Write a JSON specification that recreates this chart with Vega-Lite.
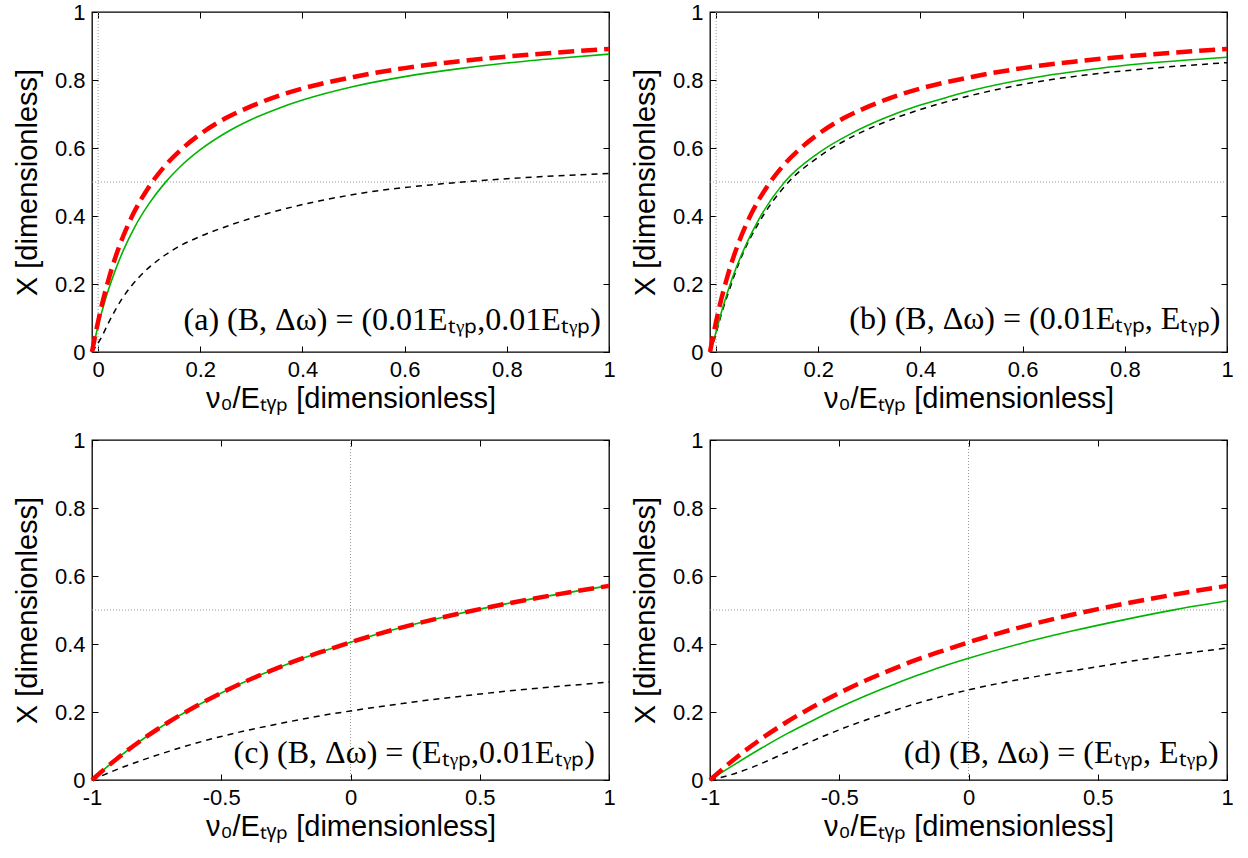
{
  "$schema": "https://vega.github.io/schema/vega-lite/v6.json",
  "background": "white",
  "padding": {"left": 12, "top": 0, "right": 5, "bottom": 5},
  "autosize": {"type": "pad"},
  "columns": 2,
  "spacing": {"row": 88, "column": 101},
  "bounds": "flush",
  "datasets": {
    "curves": [
      {"p":"a","s":"black","x":-0.012,"y":0},{"p":"a","s":"black","x":0.005,"y":0.039},{"p":"a","s":"black","x":0.021,"y":0.088},{"p":"a","s":"black","x":0.047,"y":0.157},{"p":"a","s":"black","x":0.08,"y":0.22},{"p":"a","s":"black","x":0.119,"y":0.272},{"p":"a","s":"black","x":0.154,"y":0.307},{"p":"a","s":"black","x":0.197,"y":0.338},{"p":"a","s":"black","x":0.262,"y":0.375},{"p":"a","s":"black","x":0.328,"y":0.406},{"p":"a","s":"black","x":0.432,"y":0.444},{"p":"a","s":"black","x":0.524,"y":0.469},{"p":"a","s":"black","x":0.654,"y":0.492},{"p":"a","s":"black","x":0.785,"y":0.508},{"p":"a","s":"black","x":1.0,"y":0.525},
      {"p":"a","s":"green","x":-0.012,"y":0},{"p":"a","s":"green","x":0.0,"y":0.077},{"p":"a","s":"green","x":0.01,"y":0.133},{"p":"a","s":"green","x":0.02,"y":0.182},{"p":"a","s":"green","x":0.035,"y":0.246},{"p":"a","s":"green","x":0.05,"y":0.301},{"p":"a","s":"green","x":0.07,"y":0.363},{"p":"a","s":"green","x":0.1,"y":0.437},{"p":"a","s":"green","x":0.13,"y":0.496},{"p":"a","s":"green","x":0.16,"y":0.544},{"p":"a","s":"green","x":0.2,"y":0.595},{"p":"a","s":"green","x":0.25,"y":0.645},{"p":"a","s":"green","x":0.3,"y":0.684},{"p":"a","s":"green","x":0.35,"y":0.715},{"p":"a","s":"green","x":0.4,"y":0.741},{"p":"a","s":"green","x":0.5,"y":0.781},{"p":"a","s":"green","x":0.6,"y":0.810},{"p":"a","s":"green","x":0.7,"y":0.832},{"p":"a","s":"green","x":0.8,"y":0.850},{"p":"a","s":"green","x":0.9,"y":0.864},{"p":"a","s":"green","x":1.0,"y":0.876},
      {"p":"a","s":"red","x":-0.012,"y":0},{"p":"a","s":"red","x":0.0,"y":0.09},{"p":"a","s":"red","x":0.01,"y":0.155},{"p":"a","s":"red","x":0.02,"y":0.211},{"p":"a","s":"red","x":0.035,"y":0.284},{"p":"a","s":"red","x":0.05,"y":0.344},{"p":"a","s":"red","x":0.07,"y":0.41},{"p":"a","s":"red","x":0.1,"y":0.487},{"p":"a","s":"red","x":0.13,"y":0.546},{"p":"a","s":"red","x":0.16,"y":0.592},{"p":"a","s":"red","x":0.2,"y":0.641},{"p":"a","s":"red","x":0.25,"y":0.688},{"p":"a","s":"red","x":0.3,"y":0.723},{"p":"a","s":"red","x":0.35,"y":0.752},{"p":"a","s":"red","x":0.4,"y":0.775},{"p":"a","s":"red","x":0.5,"y":0.809},{"p":"a","s":"red","x":0.6,"y":0.835},{"p":"a","s":"red","x":0.7,"y":0.854},{"p":"a","s":"red","x":0.8,"y":0.869},{"p":"a","s":"red","x":0.9,"y":0.881},{"p":"a","s":"red","x":1.0,"y":0.891},

      {"p":"b","s":"black","x":-0.012,"y":0},{"p":"b","s":"black","x":-0.007,"y":0.02},{"p":"b","s":"black","x":0.013,"y":0.125},{"p":"b","s":"black","x":0.023,"y":0.17},{"p":"b","s":"black","x":0.049,"y":0.278},{"p":"b","s":"black","x":0.082,"y":0.376},{"p":"b","s":"black","x":0.14,"y":0.497},{"p":"b","s":"black","x":0.2,"y":0.573},{"p":"b","s":"black","x":0.265,"y":0.632},{"p":"b","s":"black","x":0.33,"y":0.676},{"p":"b","s":"black","x":0.395,"y":0.711},{"p":"b","s":"black","x":0.487,"y":0.75},{"p":"b","s":"black","x":0.618,"y":0.792},{"p":"b","s":"black","x":0.748,"y":0.819},{"p":"b","s":"black","x":0.827,"y":0.831},{"p":"b","s":"black","x":1.0,"y":0.851},
      {"p":"b","s":"green","x":-0.012,"y":0},{"p":"b","s":"green","x":-0.007,"y":0.023},{"p":"b","s":"green","x":0.013,"y":0.131},{"p":"b","s":"green","x":0.032,"y":0.219},{"p":"b","s":"green","x":0.062,"y":0.327},{"p":"b","s":"green","x":0.082,"y":0.386},{"p":"b","s":"green","x":0.134,"y":0.5},{"p":"b","s":"green","x":0.2,"y":0.585},{"p":"b","s":"green","x":0.265,"y":0.643},{"p":"b","s":"green","x":0.33,"y":0.688},{"p":"b","s":"green","x":0.395,"y":0.724},{"p":"b","s":"green","x":0.454,"y":0.75},{"p":"b","s":"green","x":0.487,"y":0.764},{"p":"b","s":"green","x":0.618,"y":0.806},{"p":"b","s":"green","x":0.748,"y":0.834},{"p":"b","s":"green","x":0.827,"y":0.847},{"p":"b","s":"green","x":1.0,"y":0.867},
      {"p":"b","s":"red","x":-0.012,"y":0},{"p":"b","s":"red","x":0.0,"y":0.09},{"p":"b","s":"red","x":0.01,"y":0.155},{"p":"b","s":"red","x":0.02,"y":0.211},{"p":"b","s":"red","x":0.035,"y":0.284},{"p":"b","s":"red","x":0.05,"y":0.344},{"p":"b","s":"red","x":0.07,"y":0.41},{"p":"b","s":"red","x":0.1,"y":0.487},{"p":"b","s":"red","x":0.13,"y":0.546},{"p":"b","s":"red","x":0.16,"y":0.592},{"p":"b","s":"red","x":0.2,"y":0.641},{"p":"b","s":"red","x":0.25,"y":0.688},{"p":"b","s":"red","x":0.3,"y":0.723},{"p":"b","s":"red","x":0.35,"y":0.752},{"p":"b","s":"red","x":0.4,"y":0.775},{"p":"b","s":"red","x":0.5,"y":0.809},{"p":"b","s":"red","x":0.6,"y":0.835},{"p":"b","s":"red","x":0.7,"y":0.854},{"p":"b","s":"red","x":0.8,"y":0.869},{"p":"b","s":"red","x":0.9,"y":0.881},{"p":"b","s":"red","x":1.0,"y":0.891},

      {"p":"c","s":"black","x":-1,"y":0},{"p":"c","s":"black","x":-0.9,"y":0.032},{"p":"c","s":"black","x":-0.8,"y":0.06},{"p":"c","s":"black","x":-0.7,"y":0.085},{"p":"c","s":"black","x":-0.6,"y":0.108},{"p":"c","s":"black","x":-0.5,"y":0.128},{"p":"c","s":"black","x":-0.4,"y":0.146},{"p":"c","s":"black","x":-0.3,"y":0.162},{"p":"c","s":"black","x":-0.2,"y":0.177},{"p":"c","s":"black","x":-0.1,"y":0.191},{"p":"c","s":"black","x":0.0,"y":0.203},{"p":"c","s":"black","x":0.2,"y":0.225},{"p":"c","s":"black","x":0.4,"y":0.244},{"p":"c","s":"black","x":0.6,"y":0.261},{"p":"c","s":"black","x":0.8,"y":0.275},{"p":"c","s":"black","x":1.0,"y":0.288},
      {"p":"c","s":"green","x":-1,"y":0},{"p":"c","s":"green","x":-0.9,"y":0.065},{"p":"c","s":"green","x":-0.8,"y":0.122},{"p":"c","s":"green","x":-0.7,"y":0.172},{"p":"c","s":"green","x":-0.6,"y":0.216},{"p":"c","s":"green","x":-0.5,"y":0.256},{"p":"c","s":"green","x":-0.4,"y":0.292},{"p":"c","s":"green","x":-0.3,"y":0.324},{"p":"c","s":"green","x":-0.2,"y":0.354},{"p":"c","s":"green","x":-0.1,"y":0.38},{"p":"c","s":"green","x":0.0,"y":0.405},{"p":"c","s":"green","x":0.2,"y":0.449},{"p":"c","s":"green","x":0.4,"y":0.486},{"p":"c","s":"green","x":0.6,"y":0.518},{"p":"c","s":"green","x":0.8,"y":0.546},{"p":"c","s":"green","x":1.0,"y":0.571},
      {"p":"c","s":"red","x":-1,"y":0},{"p":"c","s":"red","x":-0.9,"y":0.065},{"p":"c","s":"red","x":-0.8,"y":0.122},{"p":"c","s":"red","x":-0.7,"y":0.172},{"p":"c","s":"red","x":-0.6,"y":0.216},{"p":"c","s":"red","x":-0.5,"y":0.256},{"p":"c","s":"red","x":-0.4,"y":0.292},{"p":"c","s":"red","x":-0.3,"y":0.324},{"p":"c","s":"red","x":-0.2,"y":0.354},{"p":"c","s":"red","x":-0.1,"y":0.38},{"p":"c","s":"red","x":0.0,"y":0.405},{"p":"c","s":"red","x":0.2,"y":0.449},{"p":"c","s":"red","x":0.4,"y":0.486},{"p":"c","s":"red","x":0.6,"y":0.518},{"p":"c","s":"red","x":0.8,"y":0.546},{"p":"c","s":"red","x":1.0,"y":0.571},

      {"p":"d","s":"black","x":-1,"y":0},{"p":"d","s":"black","x":-0.9,"y":0.02},{"p":"d","s":"black","x":-0.835,"y":0.038},{"p":"d","s":"black","x":-0.705,"y":0.081},{"p":"d","s":"black","x":-0.576,"y":0.124},{"p":"d","s":"black","x":-0.447,"y":0.163},{"p":"d","s":"black","x":-0.317,"y":0.197},{"p":"d","s":"black","x":-0.188,"y":0.228},{"p":"d","s":"black","x":0.006,"y":0.266},{"p":"d","s":"black","x":0.2,"y":0.296},{"p":"d","s":"black","x":0.498,"y":0.333},{"p":"d","s":"black","x":0.718,"y":0.36},{"p":"d","s":"black","x":1.0,"y":0.388},
      {"p":"d","s":"green","x":-1,"y":0},{"p":"d","s":"green","x":-0.9,"y":0.048},{"p":"d","s":"green","x":-0.8,"y":0.094},{"p":"d","s":"green","x":-0.7,"y":0.137},{"p":"d","s":"green","x":-0.6,"y":0.176},{"p":"d","s":"green","x":-0.5,"y":0.213},{"p":"d","s":"green","x":-0.4,"y":0.247},{"p":"d","s":"green","x":-0.3,"y":0.278},{"p":"d","s":"green","x":-0.2,"y":0.307},{"p":"d","s":"green","x":-0.1,"y":0.334},{"p":"d","s":"green","x":0.0,"y":0.358},{"p":"d","s":"green","x":0.2,"y":0.401},{"p":"d","s":"green","x":0.4,"y":0.438},{"p":"d","s":"green","x":0.6,"y":0.471},{"p":"d","s":"green","x":0.8,"y":0.501},{"p":"d","s":"green","x":1.0,"y":0.527},
      {"p":"d","s":"red","x":-1,"y":0},{"p":"d","s":"red","x":-0.9,"y":0.065},{"p":"d","s":"red","x":-0.8,"y":0.122},{"p":"d","s":"red","x":-0.7,"y":0.172},{"p":"d","s":"red","x":-0.6,"y":0.216},{"p":"d","s":"red","x":-0.5,"y":0.256},{"p":"d","s":"red","x":-0.4,"y":0.292},{"p":"d","s":"red","x":-0.3,"y":0.324},{"p":"d","s":"red","x":-0.2,"y":0.354},{"p":"d","s":"red","x":-0.1,"y":0.38},{"p":"d","s":"red","x":0.0,"y":0.405},{"p":"d","s":"red","x":0.2,"y":0.449},{"p":"d","s":"red","x":0.4,"y":0.486},{"p":"d","s":"red","x":0.6,"y":0.518},{"p":"d","s":"red","x":0.8,"y":0.546},{"p":"d","s":"red","x":1.0,"y":0.571}
    ],
    "notes": [
      {"p":"a","label":"(a) (B, Δω) = (0.01Eₜᵧₚ,0.01Eₜᵧₚ)","x":0.984,"y":0.064},
      {"p":"b","label":"(b) (B, Δω) = (0.01Eₜᵧₚ, Eₜᵧₚ)","x":0.987,"y":0.067},
      {"p":"c","label":"(c) (B, Δω) = (Eₜᵧₚ,0.01Eₜᵧₚ)","x":0.945,"y":0.05},
      {"p":"d","label":"(d) (B, Δω) = (Eₜᵧₚ, Eₜᵧₚ)","x":0.968,"y":0.05}
    ]
  },
  "concat": [
    {
      "width": 517, "height": 340,
      "layer": [
        {"data": {"values": [{"v": 0.5}]}, "mark": {"type": "rule", "color": "#999999", "strokeWidth": 1, "strokeDash": [1, 2]}, "encoding": {"y": {"field": "v", "type": "quantitative", "scale": {"domain": [0, 1], "nice": false}, "axis": null}}},
        {"data": {"values": [{"v": 0}]}, "mark": {"type": "rule", "color": "#999999", "strokeWidth": 1, "strokeDash": [1, 2]}, "encoding": {"x": {"field": "v", "type": "quantitative", "scale": {"domain": [-0.012, 1], "nice": false, "zero": false}, "axis": null}}},
        {"data": {"name": "curves"}, "transform": [{"filter": "datum.p === 'a' && datum.s === 'black'"}], "mark": {"type": "line", "interpolate": "monotone", "color": "#000000", "strokeWidth": 1.5, "strokeDash": [6, 5]},
          "encoding": {
            "x": {"field": "x", "type": "quantitative", "scale": {"domain": [-0.012, 1], "nice": false, "zero": false}, "axis": {"orient": "bottom", "values": [0, 0.2, 0.4, 0.6, 0.8, 1], "title": "ν₀/Eₜᵧₚ [dimensionless]"}},
            "y": {"field": "y", "type": "quantitative", "scale": {"domain": [0, 1], "nice": false}, "axis": {"orient": "left", "values": [0, 0.2, 0.4, 0.6, 0.8, 1], "title": "X [dimensionless]"}}
          }},
        {"data": {"name": "curves"}, "transform": [{"filter": "datum.p === 'a' && datum.s === 'green'"}], "mark": {"type": "line", "interpolate": "monotone", "color": "#00b400", "strokeWidth": 1.6},
          "encoding": {
            "x": {"field": "x", "type": "quantitative", "scale": {"domain": [-0.012, 1], "nice": false, "zero": false}, "axis": null},
            "y": {"field": "y", "type": "quantitative", "scale": {"domain": [0, 1], "nice": false}, "axis": null}
          }},
        {"data": {"name": "curves"}, "transform": [{"filter": "datum.p === 'a' && datum.s === 'red'"}], "mark": {"type": "line", "interpolate": "monotone", "color": "#ff0000", "strokeWidth": 4.5, "strokeDash": [16, 7]},
          "encoding": {
            "x": {"field": "x", "type": "quantitative", "scale": {"domain": [-0.012, 1], "nice": false, "zero": false}, "axis": null},
            "y": {"field": "y", "type": "quantitative", "scale": {"domain": [0, 1], "nice": false}, "axis": null}
          }},
        {"data": {"name": "curves"}, "transform": [{"filter": "datum.p === 'a'"}], "mark": {"type": "line", "strokeOpacity": 0},
          "encoding": {
            "x": {"field": "x", "type": "quantitative", "scale": {"domain": [-0.012, 1], "nice": false, "zero": false}, "axis": {"orient": "top", "values": [0, 0.2, 0.4, 0.6, 0.8, 1], "labels": false, "title": null}},
            "y": {"field": "y", "type": "quantitative", "scale": {"domain": [0, 1], "nice": false}, "axis": {"orient": "right", "values": [0, 0.2, 0.4, 0.6, 0.8, 1], "labels": false, "title": null}}
          }},
        {"data": {"name": "notes"}, "transform": [{"filter": "datum.p === 'a'"}], "mark": {"type": "text", "align": "right", "baseline": "alphabetic", "font": "Liberation Serif", "fontSize": 32, "color": "black"},
          "encoding": {
            "x": {"field": "x", "type": "quantitative", "scale": {"domain": [-0.012, 1], "nice": false, "zero": false}, "axis": null},
            "y": {"field": "y", "type": "quantitative", "scale": {"domain": [0, 1], "nice": false}, "axis": null},
            "text": {"field": "label"}
          }}
      ],
      "resolve": {"axis": {"x": "independent", "y": "independent"}}
    },
    {
      "width": 517, "height": 340,
      "layer": [
        {"data": {"values": [{"v": 0.5}]}, "mark": {"type": "rule", "color": "#999999", "strokeWidth": 1, "strokeDash": [1, 2]}, "encoding": {"y": {"field": "v", "type": "quantitative", "scale": {"domain": [0, 1], "nice": false}, "axis": null}}},
        {"data": {"values": [{"v": 0}]}, "mark": {"type": "rule", "color": "#999999", "strokeWidth": 1, "strokeDash": [1, 2]}, "encoding": {"x": {"field": "v", "type": "quantitative", "scale": {"domain": [-0.012, 1], "nice": false, "zero": false}, "axis": null}}},
        {"data": {"name": "curves"}, "transform": [{"filter": "datum.p === 'b' && datum.s === 'black'"}], "mark": {"type": "line", "interpolate": "monotone", "color": "#000000", "strokeWidth": 1.5, "strokeDash": [6, 5]},
          "encoding": {
            "x": {"field": "x", "type": "quantitative", "scale": {"domain": [-0.012, 1], "nice": false, "zero": false}, "axis": {"orient": "bottom", "values": [0, 0.2, 0.4, 0.6, 0.8, 1], "title": "ν₀/Eₜᵧₚ [dimensionless]"}},
            "y": {"field": "y", "type": "quantitative", "scale": {"domain": [0, 1], "nice": false}, "axis": {"orient": "left", "values": [0, 0.2, 0.4, 0.6, 0.8, 1], "title": "X [dimensionless]"}}
          }},
        {"data": {"name": "curves"}, "transform": [{"filter": "datum.p === 'b' && datum.s === 'green'"}], "mark": {"type": "line", "interpolate": "monotone", "color": "#00b400", "strokeWidth": 1.6},
          "encoding": {
            "x": {"field": "x", "type": "quantitative", "scale": {"domain": [-0.012, 1], "nice": false, "zero": false}, "axis": null},
            "y": {"field": "y", "type": "quantitative", "scale": {"domain": [0, 1], "nice": false}, "axis": null}
          }},
        {"data": {"name": "curves"}, "transform": [{"filter": "datum.p === 'b' && datum.s === 'red'"}], "mark": {"type": "line", "interpolate": "monotone", "color": "#ff0000", "strokeWidth": 4.5, "strokeDash": [16, 7]},
          "encoding": {
            "x": {"field": "x", "type": "quantitative", "scale": {"domain": [-0.012, 1], "nice": false, "zero": false}, "axis": null},
            "y": {"field": "y", "type": "quantitative", "scale": {"domain": [0, 1], "nice": false}, "axis": null}
          }},
        {"data": {"name": "curves"}, "transform": [{"filter": "datum.p === 'b'"}], "mark": {"type": "line", "strokeOpacity": 0},
          "encoding": {
            "x": {"field": "x", "type": "quantitative", "scale": {"domain": [-0.012, 1], "nice": false, "zero": false}, "axis": {"orient": "top", "values": [0, 0.2, 0.4, 0.6, 0.8, 1], "labels": false, "title": null}},
            "y": {"field": "y", "type": "quantitative", "scale": {"domain": [0, 1], "nice": false}, "axis": {"orient": "right", "values": [0, 0.2, 0.4, 0.6, 0.8, 1], "labels": false, "title": null}}
          }},
        {"data": {"name": "notes"}, "transform": [{"filter": "datum.p === 'b'"}], "mark": {"type": "text", "align": "right", "baseline": "alphabetic", "font": "Liberation Serif", "fontSize": 32, "color": "black"},
          "encoding": {
            "x": {"field": "x", "type": "quantitative", "scale": {"domain": [-0.012, 1], "nice": false, "zero": false}, "axis": null},
            "y": {"field": "y", "type": "quantitative", "scale": {"domain": [0, 1], "nice": false}, "axis": null},
            "text": {"field": "label"}
          }}
      ],
      "resolve": {"axis": {"x": "independent", "y": "independent"}}
    },
    {
      "width": 517, "height": 340,
      "layer": [
        {"data": {"values": [{"v": 0.5}]}, "mark": {"type": "rule", "color": "#999999", "strokeWidth": 1, "strokeDash": [1, 2]}, "encoding": {"y": {"field": "v", "type": "quantitative", "scale": {"domain": [0, 1], "nice": false}, "axis": null}}},
        {"data": {"values": [{"v": 0}]}, "mark": {"type": "rule", "color": "#999999", "strokeWidth": 1, "strokeDash": [1, 2]}, "encoding": {"x": {"field": "v", "type": "quantitative", "scale": {"domain": [-1, 1], "nice": false, "zero": false}, "axis": null}}},
        {"data": {"name": "curves"}, "transform": [{"filter": "datum.p === 'c' && datum.s === 'black'"}], "mark": {"type": "line", "interpolate": "monotone", "color": "#000000", "strokeWidth": 1.5, "strokeDash": [6, 5]},
          "encoding": {
            "x": {"field": "x", "type": "quantitative", "scale": {"domain": [-1, 1], "nice": false, "zero": false}, "axis": {"orient": "bottom", "values": [-1, -0.5, 0, 0.5, 1], "title": "ν₀/Eₜᵧₚ [dimensionless]"}},
            "y": {"field": "y", "type": "quantitative", "scale": {"domain": [0, 1], "nice": false}, "axis": {"orient": "left", "values": [0, 0.2, 0.4, 0.6, 0.8, 1], "title": "X [dimensionless]"}}
          }},
        {"data": {"name": "curves"}, "transform": [{"filter": "datum.p === 'c' && datum.s === 'green'"}], "mark": {"type": "line", "interpolate": "monotone", "color": "#00b400", "strokeWidth": 1.6},
          "encoding": {
            "x": {"field": "x", "type": "quantitative", "scale": {"domain": [-1, 1], "nice": false, "zero": false}, "axis": null},
            "y": {"field": "y", "type": "quantitative", "scale": {"domain": [0, 1], "nice": false}, "axis": null}
          }},
        {"data": {"name": "curves"}, "transform": [{"filter": "datum.p === 'c' && datum.s === 'red'"}], "mark": {"type": "line", "interpolate": "monotone", "color": "#ff0000", "strokeWidth": 4.5, "strokeDash": [16, 7]},
          "encoding": {
            "x": {"field": "x", "type": "quantitative", "scale": {"domain": [-1, 1], "nice": false, "zero": false}, "axis": null},
            "y": {"field": "y", "type": "quantitative", "scale": {"domain": [0, 1], "nice": false}, "axis": null}
          }},
        {"data": {"name": "curves"}, "transform": [{"filter": "datum.p === 'c'"}], "mark": {"type": "line", "strokeOpacity": 0},
          "encoding": {
            "x": {"field": "x", "type": "quantitative", "scale": {"domain": [-1, 1], "nice": false, "zero": false}, "axis": {"orient": "top", "values": [-1, -0.5, 0, 0.5, 1], "labels": false, "title": null}},
            "y": {"field": "y", "type": "quantitative", "scale": {"domain": [0, 1], "nice": false}, "axis": {"orient": "right", "values": [0, 0.2, 0.4, 0.6, 0.8, 1], "labels": false, "title": null}}
          }},
        {"data": {"name": "notes"}, "transform": [{"filter": "datum.p === 'c'"}], "mark": {"type": "text", "align": "right", "baseline": "alphabetic", "font": "Liberation Serif", "fontSize": 32, "color": "black"},
          "encoding": {
            "x": {"field": "x", "type": "quantitative", "scale": {"domain": [-1, 1], "nice": false, "zero": false}, "axis": null},
            "y": {"field": "y", "type": "quantitative", "scale": {"domain": [0, 1], "nice": false}, "axis": null},
            "text": {"field": "label"}
          }}
      ],
      "resolve": {"axis": {"x": "independent", "y": "independent"}}
    },
    {
      "width": 517, "height": 340,
      "layer": [
        {"data": {"values": [{"v": 0.5}]}, "mark": {"type": "rule", "color": "#999999", "strokeWidth": 1, "strokeDash": [1, 2]}, "encoding": {"y": {"field": "v", "type": "quantitative", "scale": {"domain": [0, 1], "nice": false}, "axis": null}}},
        {"data": {"values": [{"v": 0}]}, "mark": {"type": "rule", "color": "#999999", "strokeWidth": 1, "strokeDash": [1, 2]}, "encoding": {"x": {"field": "v", "type": "quantitative", "scale": {"domain": [-1, 1], "nice": false, "zero": false}, "axis": null}}},
        {"data": {"name": "curves"}, "transform": [{"filter": "datum.p === 'd' && datum.s === 'black'"}], "mark": {"type": "line", "interpolate": "monotone", "color": "#000000", "strokeWidth": 1.5, "strokeDash": [6, 5]},
          "encoding": {
            "x": {"field": "x", "type": "quantitative", "scale": {"domain": [-1, 1], "nice": false, "zero": false}, "axis": {"orient": "bottom", "values": [-1, -0.5, 0, 0.5, 1], "title": "ν₀/Eₜᵧₚ [dimensionless]"}},
            "y": {"field": "y", "type": "quantitative", "scale": {"domain": [0, 1], "nice": false}, "axis": {"orient": "left", "values": [0, 0.2, 0.4, 0.6, 0.8, 1], "title": "X [dimensionless]"}}
          }},
        {"data": {"name": "curves"}, "transform": [{"filter": "datum.p === 'd' && datum.s === 'green'"}], "mark": {"type": "line", "interpolate": "monotone", "color": "#00b400", "strokeWidth": 1.6},
          "encoding": {
            "x": {"field": "x", "type": "quantitative", "scale": {"domain": [-1, 1], "nice": false, "zero": false}, "axis": null},
            "y": {"field": "y", "type": "quantitative", "scale": {"domain": [0, 1], "nice": false}, "axis": null}
          }},
        {"data": {"name": "curves"}, "transform": [{"filter": "datum.p === 'd' && datum.s === 'red'"}], "mark": {"type": "line", "interpolate": "monotone", "color": "#ff0000", "strokeWidth": 4.5, "strokeDash": [16, 7]},
          "encoding": {
            "x": {"field": "x", "type": "quantitative", "scale": {"domain": [-1, 1], "nice": false, "zero": false}, "axis": null},
            "y": {"field": "y", "type": "quantitative", "scale": {"domain": [0, 1], "nice": false}, "axis": null}
          }},
        {"data": {"name": "curves"}, "transform": [{"filter": "datum.p === 'd'"}], "mark": {"type": "line", "strokeOpacity": 0},
          "encoding": {
            "x": {"field": "x", "type": "quantitative", "scale": {"domain": [-1, 1], "nice": false, "zero": false}, "axis": {"orient": "top", "values": [-1, -0.5, 0, 0.5, 1], "labels": false, "title": null}},
            "y": {"field": "y", "type": "quantitative", "scale": {"domain": [0, 1], "nice": false}, "axis": {"orient": "right", "values": [0, 0.2, 0.4, 0.6, 0.8, 1], "labels": false, "title": null}}
          }},
        {"data": {"name": "notes"}, "transform": [{"filter": "datum.p === 'd'"}], "mark": {"type": "text", "align": "right", "baseline": "alphabetic", "font": "Liberation Serif", "fontSize": 32, "color": "black"},
          "encoding": {
            "x": {"field": "x", "type": "quantitative", "scale": {"domain": [-1, 1], "nice": false, "zero": false}, "axis": null},
            "y": {"field": "y", "type": "quantitative", "scale": {"domain": [0, 1], "nice": false}, "axis": null},
            "text": {"field": "label"}
          }}
      ],
      "resolve": {"axis": {"x": "independent", "y": "independent"}}
    }
  ],
  "config": {
    "view": {"stroke": "black", "strokeWidth": 1.3},
    "axis": {
      "grid": false, "domain": false, "ticks": true, "tickColor": "black", "tickSize": -6, "tickWidth": 1,
      "labelFont": "Liberation Sans", "labelFontSize": 22, "labelColor": "black", "labelFlush": false, "labelOverlap": false, "labelPadding": 13,
      "labelExpr": "datum.value < 0 ? '-' + format(-datum.value, '~g') : format(datum.value, '~g')",
      "titleFont": "Liberation Sans", "titleFontSize": 29, "titleFontWeight": "normal", "titleColor": "black"
    },
    "axisX": {"titlePadding": 4},
    "axisY": {"titlePadding": 12}
  }
}
